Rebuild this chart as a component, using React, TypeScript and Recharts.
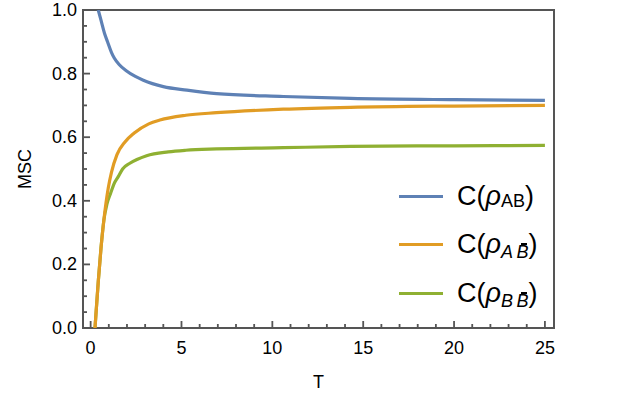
import React from 'react';
import { LineChart, Line, XAxis, YAxis, Legend, ReferenceArea } from 'recharts';

// ---- data ----
const blueT = [0.42, 0.57, 0.79, 0.93, 1.15, 1.3, 1.58, 1.96, 2.46, 2.9, 4.0, 5.3, 6.93, 10.6, 14.3, 20, 25];
const blueV = [1.0, 0.968, 0.922, 0.9, 0.866, 0.849, 0.828, 0.809, 0.791, 0.779, 0.759, 0.748, 0.737, 0.728, 0.722, 0.718, 0.716];

const orangeT = [0.24, 0.29, 0.42, 0.57, 0.73, 0.97, 1.15, 1.45, 1.89, 2.4, 3.2, 3.81, 5.24, 6.93, 10.6, 14.3, 20, 25];
const orangeV = [0, 0.041, 0.146, 0.251, 0.34, 0.44, 0.49, 0.545, 0.585, 0.613, 0.642, 0.654, 0.669, 0.677, 0.688, 0.694, 0.698, 0.7];

const greenT = [0.24, 0.29, 0.42, 0.57, 0.73, 0.9, 1.1, 1.3, 1.52, 1.76, 2.16, 3.08, 4.27, 5.24, 6.93, 10.6, 14.3, 20, 25];
const greenV = [0, 0.041, 0.146, 0.251, 0.34, 0.39, 0.424, 0.455, 0.476, 0.5, 0.518, 0.542, 0.554, 0.559, 0.563, 0.567, 0.571, 0.573, 0.574];

const xTicks = [0, 1, 2, 3, 4, 5, 6, 7, 8, 9, 10, 11, 12, 13, 14, 15, 16, 17, 18, 19, 20, 21, 22, 23, 24, 25];
const xMajor = [0, 5, 10, 15, 20, 25];
const yTicks = [0, 0.05, 0.1, 0.15, 0.2, 0.25, 0.3, 0.35, 0.4, 0.45, 0.5, 0.55, 0.6, 0.65, 0.7, 0.75, 0.8, 0.85, 0.9, 0.95, 1.0];
const yMajor = [0, 0.2, 0.4, 0.6, 0.8, 1.0];

const xDomain: [number, number] = [-0.42, 25.5];
const yDomain: [number, number] = [0, 1];

const COLORS = { blue: '#5E81B5', orange: '#E19C24', green: '#8FB032' };
const FONT = '"Liberation Sans", Arial, Helvetica, sans-serif';
const INK = '#555555';

const toRows = (ts: number[], vs: number[]) => ts.map((t, i) => ({ t, v: vs[i] }));
const blueData = toRows(blueT, blueV);
const orangeData = toRows(orangeT, orangeV);
const greenData = toRows(greenT, greenV);

const isMajorX = (v: number) => xMajor.some((m) => Math.abs(m - v) < 1e-6);
const isMajorY = (v: number) => yMajor.some((m) => Math.abs(m - v) < 1e-6);

const MAJOR = 7;
const MINOR = 4;
const TW = 1.8; // tick thickness

const XTickBottom = (props: any) => {
  const { x, y, payload } = props;
  const len = isMajorX(payload.value) ? MAJOR : MINOR;
  return (
    <g>
      <rect x={x - TW / 2} y={y - len} width={TW} height={len} fill={INK} />
      {isMajorX(payload.value) && (
        <text x={x} y={y + 20} textAnchor="middle" dominantBaseline="central" fontSize={18} fontFamily={FONT} fill="#000">
          {payload.value}
        </text>
      )}
    </g>
  );
};

const XTickTop = (props: any) => {
  const { x, y, payload } = props;
  const len = isMajorX(payload.value) ? MAJOR : MINOR;
  return <rect x={x - TW / 2} y={y} width={TW} height={len} fill={INK} />;
};

const YTickLeft = (props: any) => {
  const { x, y, payload } = props;
  const major = isMajorY(payload.value);
  const len = major ? MAJOR : MINOR;
  return (
    <g>
      <rect x={x} y={y - TW / 2} width={len} height={TW} fill={INK} />
      {major && (
        <text x={x - 6} y={y} textAnchor="end" dominantBaseline="central" fontSize={18} fontFamily={FONT} fill="#000">
          {Number(payload.value).toFixed(1)}
        </text>
      )}
    </g>
  );
};

const YTickRight = (props: any) => {
  const { x, y, payload } = props;
  const len = isMajorY(payload.value) ? MAJOR : MINOR;
  return <rect x={x - len} y={y - TW / 2} width={len} height={TW} fill={INK} />;
};

const xLabel = (p: any) => {
  const vb = p.viewBox || {};
  const cx = (vb.x ?? 83) + (vb.width ?? 471) / 2;
  return (
    <text x={cx} y={382} textAnchor="middle" dominantBaseline="central" fontSize={18} fontFamily={FONT} fill="#000">
      T
    </text>
  );
};

const yLabel = (p: any) => {
  const vb = p.viewBox || {};
  const cy = (vb.y ?? 10) + (vb.height ?? 318) / 2;
  return (
    <text x={25} y={cy} transform={`rotate(-90 25 ${cy})`} textAnchor="middle" dominantBaseline="central" fontSize={18} fontFamily={FONT} fill="#000">
      MSC
    </text>
  );
};

const Bar = ({ children }: { children: React.ReactNode }) => (
  <span style={{ position: 'relative', display: 'inline-block', lineHeight: 1 }}>
    <span style={{ position: 'absolute', left: '38%', width: '52%', top: 0, height: 2, background: '#000' }} />
    {children}
  </span>
);

const legendItems = [
  { color: COLORS.blue, sub: <span style={{ fontSize: 18 }}>AB</span> },
  {
    color: COLORS.orange,
    sub: (
      <span style={{ fontSize: 18, fontStyle: 'italic' }}>
        A&thinsp;<Bar>B</Bar>
      </span>
    ),
  },
  {
    color: COLORS.green,
    sub: (
      <span style={{ fontSize: 18, fontStyle: 'italic' }}>
        B&thinsp;<Bar>B</Bar>
      </span>
    ),
  },
];

const renderLegend = () => (
  <div style={{ fontFamily: FONT, color: '#000' }}>
    {legendItems.map((it, i) => (
      <div key={i} style={{ display: 'flex', alignItems: 'center', height: 48.5 }}>
        <span style={{ display: 'inline-block', width: 44, height: 3, background: it.color }} />
        <span style={{ marginLeft: 14, fontSize: 27, whiteSpace: 'nowrap', lineHeight: 1 }}>
          C(<span style={{ fontStyle: 'italic' }}>ρ</span>
          <span style={{ position: 'relative', top: i === 0 ? 2 : 5 }}>{it.sub}</span>)
        </span>
      </div>
    ))}
  </div>
);

export default function App() {
  return (
    <div style={{ position: 'absolute', left: 0, top: 0, width: 630, height: 401, background: '#fff' }}>
      <LineChart width={630} height={401} margin={{ top: 10, right: 76, bottom: 0, left: 23 }}>
        <XAxis
          dataKey="t"
          type="number"
          domain={xDomain}
          allowDataOverflow
          ticks={xTicks}
          interval={0}
          tick={XTickBottom}
          tickSize={0}
          tickMargin={0}
          tickLine={false}
          axisLine={false}
          height={73}
          label={xLabel}
        />
        <XAxis
          xAxisId="top"
          orientation="top"
          dataKey="t"
          type="number"
          domain={xDomain}
          allowDataOverflow
          ticks={xTicks}
          interval={0}
          tick={XTickTop}
          tickSize={0}
          tickMargin={0}
          tickLine={false}
          axisLine={false}
          height={0}
        />
        <YAxis
          type="number"
          domain={yDomain}
          allowDataOverflow
          ticks={yTicks}
          interval={0}
          tick={YTickLeft}
          tickSize={0}
          tickMargin={0}
          tickLine={false}
          axisLine={false}
          width={60}
          label={yLabel}
        />
        <YAxis
          yAxisId="right"
          orientation="right"
          type="number"
          domain={yDomain}
          allowDataOverflow
          ticks={yTicks}
          interval={0}
          tick={YTickRight}
          tickSize={0}
          tickMargin={0}
          tickLine={false}
          axisLine={false}
          width={0}
        />
        <ReferenceArea
          x1={xDomain[0]}
          x2={xDomain[1]}
          y1={yDomain[0]}
          y2={yDomain[1]}
          ifOverflow="visible"
          fill="none"
          stroke={INK}
          strokeWidth={2}
        />
        <Line data={greenData} dataKey="v" type="monotone" stroke={COLORS.green} strokeWidth={3.2} dot={false} isAnimationActive={false} />
        <Line data={orangeData} dataKey="v" type="monotone" stroke={COLORS.orange} strokeWidth={3.2} dot={false} isAnimationActive={false} />
        <Line data={blueData} dataKey="v" type="monotone" stroke={COLORS.blue} strokeWidth={3.2} dot={false} isAnimationActive={false} />
        <Legend
          layout="horizontal"
          verticalAlign="middle"
          align="center"
          content={renderLegend}
          wrapperStyle={{ left: 399, top: 172, width: 220 }}
        />
      </LineChart>
    </div>
  );
}
